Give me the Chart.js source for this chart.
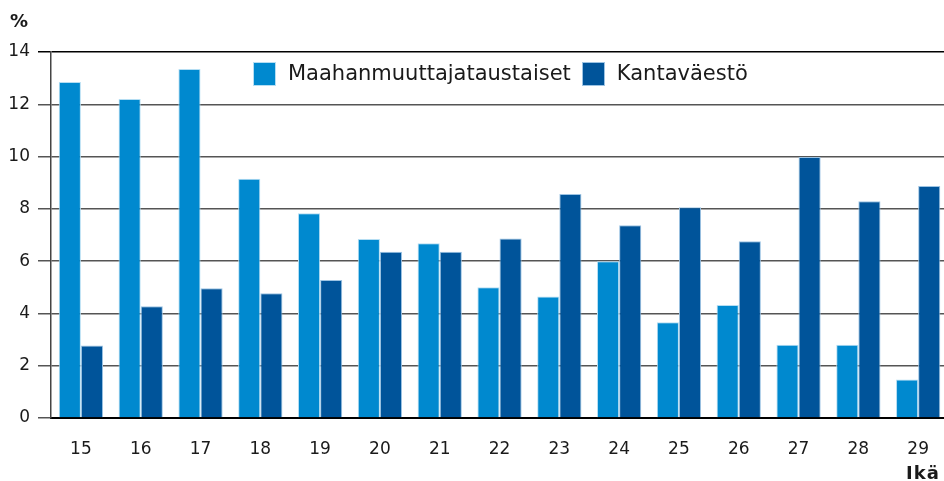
<!DOCTYPE html>
<html>
<head>
<meta charset="utf-8">
<script src="https://cdn.jsdelivr.net/npm/chart.js@4"></script>
<style>
  body { margin: 0; overflow: hidden; background: #fff; }
  #wrap { position: relative; width: 950px; height: 481px; }
  .lbl { position: absolute; font-family: "DejaVu Sans", Verdana, sans-serif; font-weight: bold; color: #1a1a1a; line-height: 20px; white-space: nowrap; }
  #legend { position: absolute; left: 253px; top: 62px; font-family: "DejaVu Sans", Verdana, sans-serif; font-size: 21px; color: #1a1a1a; white-space: nowrap; }
  .item { display: inline-block; vertical-align: top; height: 23px; line-height: 23px; }
  .box { display: inline-block; width: 21px; height: 22px; vertical-align: top; margin-right: 12px; border: 1px solid; }
</style>
</head>
<body>
<div id="wrap">
  <canvas id="chart"></canvas>
  <div class="lbl" style="left:10px; top:11px; font-size:18px;">%</div>
  <div class="lbl" style="left:906px; top:463px; font-size:18px; letter-spacing:1px;">Ikä</div>
  <div id="legend"></div>
</div>
<script>
var ages = ["15", "16", "17", "18", "19", "20", "21", "22", "23", "24", "25", "26", "27", "28", "29"];
var maahanmuuttajataustaiset = [12.85, 12.2, 13.35, 9.15, 7.83, 6.85, 6.68, 5.0, 4.65, 6.0, 3.66, 4.32, 2.8, 2.8, 1.47];
var kantavaesto = [2.77, 4.27, 4.96, 4.77, 5.28, 6.36, 6.36, 6.87, 8.57, 7.37, 8.06, 6.76, 9.98, 8.29, 8.87];
var yTicks = [0, 2, 4, 6, 8, 10, 12, 14];

var fontFamily = "'DejaVu Sans', Verdana, sans-serif";

var chart = new Chart(document.getElementById("chart"), {
  type: "bar",
  data: {
    labels: ages,
    datasets: [{
      label: "Maahanmuuttajataustaiset",
      data: maahanmuuttajataustaiset,
      backgroundColor: "#0089cf",
      borderColor: "#b5def3",
      borderWidth: 1,
      barPercentage: 1,
      categoryPercentage: 0.74
    }, {
      label: "Kantaväestö",
      data: kantavaesto,
      backgroundColor: "#00549a",
      borderColor: "#9cc3e3",
      borderWidth: 1,
      barPercentage: 1,
      categoryPercentage: 0.74
    }]
  },
  options: {
    responsive: true,
    maintainAspectRatio: false,
    animation: false,
    layout: { padding: { top: 52, left: 0, right: 1, bottom: 0 } },
    scales: {
      x: {
        grid: { display: false, drawTicks: false },
        border: { display: true, color: "#000", width: 2 },
        ticks: { color: "#1a1a1a", padding: 21, font: { family: fontFamily, size: 17 } },
        afterFit: function(scale) { scale.height = 63; }
      },
      y: {
        min: 0,
        max: 14,
        afterBuildTicks: function(scale) {
          scale.ticks = yTicks.map(function(v) { return { value: v }; });
        },
        grid: {
          color: function(ctx) { return ctx.tick && ctx.tick.value === 14 ? "#000" : "#555"; },
          lineWidth: 1.5,
          drawTicks: true,
          tickLength: 13
        },
        border: { display: true, color: "#444", width: 1.5 },
        ticks: { color: "#1a1a1a", padding: 8, font: { family: fontFamily, size: 17 } },
        afterFit: function(scale) { scale.width = 51; }
      }
    },
    plugins: {
      legend: { display: false },
      tooltip: { enabled: false }
    }
  }
});

// legend as html, from the dataset labels and colours
var legendEl = document.getElementById("legend");
chart.data.datasets.forEach(function(ds, i) {
  var item = document.createElement("span");
  item.className = "item";
  item.style.marginRight = i === 0 ? "11px" : "0";
  var box = document.createElement("span");
  box.className = "box";
  box.style.background = ds.backgroundColor;
  box.style.borderColor = ds.borderColor;
  item.appendChild(box);
  item.appendChild(document.createTextNode(ds.label));
  legendEl.appendChild(item);
});
</script>
</body>
</html>
